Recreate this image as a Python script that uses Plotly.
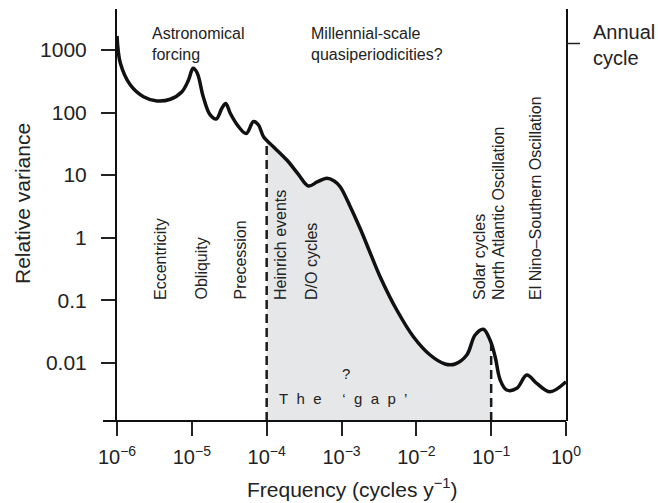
import numpy as np
import plotly.graph_objects as go

# ---- data ----
freq = [1.0e-6, 1.11e-6, 1.51e-6, 2.26e-6, 3.42e-6, 5.15e-6, 7.38e-6, 9.03e-6,
        1.04e-5, 1.18e-5, 1.42e-5, 1.76e-5, 2.12e-5, 2.52e-5, 2.84e-5, 3.26e-5,
        4.21e-5, 5.33e-5, 6.67e-5, 7.78e-5, 9.08e-5, 1.23e-4, 1.86e-4, 2.64e-4,
        3.62e-4, 4.73e-4, 6.37e-4, 7.98e-4, 9.59e-4, 1.31e-3, 1.77e-3, 2.42e-3,
        3.28e-3, 5.48e-3, 9.14e-3, 0.0153, 0.0242, 0.0330, 0.0472, 0.0610,
        0.0787, 0.0966, 0.113, 0.132, 0.161, 0.220, 0.299, 0.406, 0.612, 1.0]
variance = [1675, 612, 275, 179, 153, 163, 215, 331,
            509, 429, 179, 91.4, 78.9, 117, 140, 97.3,
            59.4, 46.2, 71.9, 63.2, 41.1, 28.4, 17.4, 10.4,
            6.7, 7.76, 8.89, 8.05, 6.53, 3.13, 1.41, 0.569,
            0.238, 0.0697, 0.0261, 0.0133, 0.00955, 0.00955, 0.0133, 0.0278,
            0.0343, 0.0231, 0.0125, 0.0053, 0.00367, 0.0039, 0.00637, 0.00469, 0.00344, 0.00498]

gap_lo, gap_hi = 1e-4, 1e-1
x_tickvals = [1e-6, 1e-5, 1e-4, 1e-3, 1e-2, 1e-1, 1e0]
x_ticktext = ["10<sup>\u22126</sup>", "10<sup>\u22125</sup>", "10<sup>\u22124</sup>",
              "10<sup>\u22123</sup>", "10<sup>\u22122</sup>", "10<sup>\u22121</sup>",
              "10<sup>0</sup>"]
y_tickvals = [1000, 100, 10, 1, 0.1, 0.01]
y_ticktext = ["1000", "100", "10", "1", "0.1", "0.01"]

# ---- layout geometry ----
W, H = 658, 503
ML, MR, MT, MB = 117, 92, 9, 82
PW, PH = W - ML - MR, H - MT - MB
YR = [-2.931, 3.655]
XR = [-6, 0]
ymin = 10 ** YR[0]

def px(x):
    return (x - ML) / PW

def py(y):
    return (H - MB - y) / PH

FONT = "Liberation Sans, Arial, Helvetica, sans-serif"
TXT = "#222222"

lf = np.log10(freq)
lv = np.log10(variance)
def val_at(f):
    return 10 ** np.interp(np.log10(f), lf, lv)

v_lo, v_hi = val_at(gap_lo), val_at(gap_hi)
seg_x = [gap_lo] + [f for f in freq if gap_lo < f < gap_hi] + [gap_hi]
seg_y = [v_lo] + [v for f, v in zip(freq, variance) if gap_lo < f < gap_hi] + [v_hi]

fig = go.Figure()
# baseline of the shaded 'gap'
fig.add_trace(go.Scatter(x=[gap_lo, gap_hi], y=[ymin, ymin], mode="lines",
                         line=dict(width=0, color="rgba(0,0,0,0)"), showlegend=False,
                         hoverinfo="skip"))
fig.add_trace(go.Scatter(x=seg_x, y=seg_y, mode="lines", fill="tonexty",
                         fillcolor="#e6e7e9", line=dict(width=0, shape="spline", color="rgba(0,0,0,0)"),
                         showlegend=False, hoverinfo="skip"))
# dashed boundaries
for xv, yv in [(gap_lo, v_lo), (gap_hi, v_hi)]:
    fig.add_trace(go.Scatter(x=[xv, xv], y=[ymin, yv], mode="lines",
                             line=dict(color="#1a1a1a", width=2.5, dash="9px,5px"),
                             showlegend=False, hoverinfo="skip", cliponaxis=False))
# spectrum curve
fig.add_trace(go.Scatter(x=freq, y=variance, mode="lines",
                         line=dict(color="#111111", width=3.5, shape="spline", smoothing=1.0),
                         showlegend=False, cliponaxis=False))

fig.update_layout(
    width=W, height=H, margin=dict(l=ML, r=MR, t=MT, b=MB),
    paper_bgcolor="white", plot_bgcolor="white",
    font=dict(family=FONT, color=TXT, size=16),
    xaxis=dict(type="log", range=XR, tickvals=x_tickvals, ticktext=x_ticktext,
               ticks="outside", ticklen=14, tickwidth=1.5, tickcolor=TXT,
               showgrid=False, zeroline=False, showline=False,
               tickfont=dict(size=20, color=TXT), ticklabelstandoff=4),
    yaxis=dict(type="log", range=YR, tickvals=y_tickvals, ticktext=y_ticktext,
               ticks="outside", ticklen=14, tickwidth=1.5, tickcolor=TXT,
               showgrid=False, zeroline=False, showline=True, linewidth=2, linecolor="#111111",
               mirror=True, tickfont=dict(size=21, color=TXT), ticklabelstandoff=10),
)

# extended bottom axis line and annual-cycle tick
fig.add_shape(type="line", xref="paper", yref="paper", x0=px(103), x1=1, y0=0, y1=0,
              line=dict(color="#111111", width=2))
fig.add_shape(type="line", xref="paper", yref="paper", x0=1, x1=px(580), y0=py(43.5), y1=py(43.5),
              line=dict(color=TXT, width=1.5))

def ann(text, x, y, xa="left", ya="top", size=16, angle=0):
    fig.add_annotation(text=text, xref="paper", yref="paper", x=px(x), y=py(y),
                       xanchor=xa, yanchor=ya, showarrow=False, textangle=angle,
                       font=dict(size=size, family=FONT, color=TXT), align="left")

# axis titles
ann("Frequency (cycles y<sup>\u22121</sup>)", 352, 488, xa="center", ya="middle", size=21)
ann("Relative variance", 22, 204, xa="center", ya="middle", size=21, angle=-90)

ann("Astronomical<br>forcing", 150, 23)
ann("Millennial-scale<br>quasiperiodicities?", 309, 23)
ann("Annual<br>cycle", 591, 19, size=20)

# vertical labels (bottom at y=302)
for text, xc in [("Eccentricity", 160), ("Obliquity", 200.5), ("Precession", 240),
                 ("Heinrich events", 280), ("D/O cycles", 311.5), ("Solar cycles", 479),
                 ("North Atlantic Oscillation", 498.5), ("El Nino\u2013Southern Oscillation", 535)]:
    ann(text, xc, 302, xa="center", ya="bottom", angle=-90)

ann("?", 346, 373, xa="center", ya="middle", size=15)
sp2 = "&nbsp;&nbsp;"
gap_text = ("T" + sp2 + "h" + sp2 + "e" + sp2 * 2 + "&nbsp;\u2018" + sp2 + "g" + sp2 + "a"
            + sp2 + "p" + sp2 + "\u2019")
ann(gap_text, 277, 398, xa="left", ya="middle", size=15)

fig.write_html("out.html")
